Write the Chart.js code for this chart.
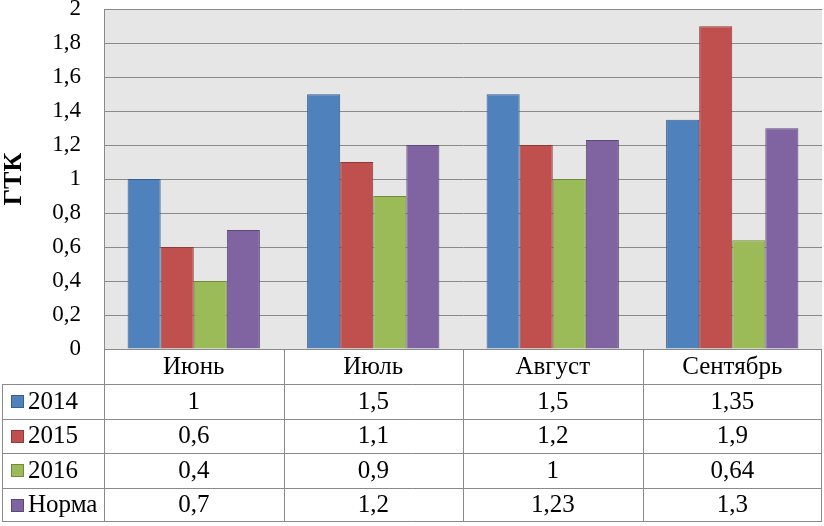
<!DOCTYPE html>
<html>
<head>
<meta charset="utf-8">
<script src="https://cdn.jsdelivr.net/npm/chart.js@4"></script>
<style>
  html, body { margin: 0; padding: 0; background: #fff; }
  #wrap { width: 824px; height: 526px; }
</style>
</head>
<body>
<div id="wrap"><canvas id="chart1" width="824" height="526"></canvas></div>
<script>
// kuukaudet ja sarjat
var months = ['Июнь', 'Июль', 'Август', 'Сентябрь'];
var seriesNames = ['2014', '2015', '2016', 'Норма'];
var v2014 = [1, 1.5, 1.5, 1.35];
var v2015 = [0.6, 1.1, 1.2, 1.9];
var v2016 = [0.4, 0.9, 1, 0.64];
var vNorma = [0.7, 1.2, 1.23, 1.3];

var fill = ['#4f81bd', '#c0504d', '#9bbb59', '#8064a2'];
var edge = ['#3a5f8c', '#8e3a38', '#72893f', '#5d4978'];
var fontName = '"Liberation Serif", "Times New Roman", serif';
var lineCol = '#8a8a8a';

function pilkku(v) {
  return String(+Number(v).toFixed(2)).replace('.', ',');
}

var sarjat = [v2014, v2015, v2016, vNorma];
var datasets = [];
for (let i = 0; i < sarjat.length; i++) {
  datasets.push({
    label: seriesNames[i],
    data: sarjat[i],
    backgroundColor: fill[i],
    borderColor: edge[i],
    borderWidth: 1,
    categoryPercentage: 0.737,
    barPercentage: 1
  });
}

// taustan väri piirtoalueelle
var tausta = {
  id: 'tausta',
  beforeDraw: function (chart) {
    var a = chart.chartArea;
    var ctx = chart.ctx;
    ctx.save();
    ctx.fillStyle = '#e6e6e6';
    ctx.fillRect(a.left, a.top, a.right - a.left, a.bottom - a.top);
    ctx.restore();
  }
};

// datataulukko kaavion alle
var taulukko = {
  id: 'taulukko',
  afterDraw: function (chart) {
    var a = chart.chartArea;
    var ctx = chart.ctx;
    var x = chart.scales.x;
    var w = (a.right - a.left) / months.length;
    var headH = 35;
    var rowH = 34.5;
    var top = a.bottom;
    var tabTop = top + headH;
    var bottom = tabTop + rowH * seriesNames.length;
    var leftX = 2.5;

    ctx.save();
    ctx.strokeStyle = lineCol;
    ctx.lineWidth = 1;
    ctx.beginPath();
    // pystyviivat
    for (let i = 0; i <= months.length; i++) {
      let px = Math.round(a.left + i * w) + 0.5;
      if (i == months.length) px = Math.round(a.right) - 0.5;
      ctx.moveTo(px, top);
      ctx.lineTo(px, bottom);
    }
    ctx.moveTo(leftX, tabTop);
    ctx.lineTo(leftX, bottom);
    // vaakaviivat
    for (let r = 0; r <= seriesNames.length; r++) {
      let py = Math.round(tabTop + r * rowH) + 0.5;
      if (r == seriesNames.length) py = Math.round(bottom) - 0.5;
      ctx.moveTo(leftX, py);
      ctx.lineTo(a.right, py);
    }
    ctx.stroke();

    ctx.fillStyle = '#000';
    ctx.font = '25px ' + fontName;
    ctx.textAlign = 'center';
    ctx.textBaseline = 'middle';
    for (let i = 0; i < months.length; i++) {
      ctx.fillText(months[i], x.getPixelForValue(i), top + headH / 2 + 1);
    }
    for (let r = 0; r < seriesNames.length; r++) {
      let cy = tabTop + r * rowH + rowH / 2 + 1;
      ctx.textAlign = 'center';
      for (let i = 0; i < months.length; i++) {
        ctx.fillText(pilkku(sarjat[r][i]), x.getPixelForValue(i), cy);
      }
      // selitteen neliö
      ctx.fillStyle = fill[r];
      ctx.fillRect(11, Math.round(cy - 7), 13, 13);
      ctx.strokeStyle = edge[r];
      ctx.strokeRect(11.5, Math.round(cy - 7) + 0.5, 12, 12);
      ctx.fillStyle = '#000';
      ctx.textAlign = 'left';
      ctx.fillText(seriesNames[r], 28, cy);
    }
    ctx.restore();
  }
};

new Chart(document.getElementById('chart1'), {
  type: 'bar',
  data: { labels: months, datasets: datasets },
  plugins: [tausta, taulukko],
  options: {
    responsive: false,
    animation: false,
    layout: { padding: { top: 0, right: 2, bottom: 177, left: 0 } },
    plugins: { legend: { display: false }, tooltip: { enabled: false } },
    scales: {
      x: {
        ticks: { display: false },
        grid: { display: false, drawTicks: false },
        border: { display: false }
      },
      y: {
        min: 0,
        max: 2,
        ticks: {
          stepSize: 0.2,
          color: '#000',
          padding: 0,
          font: { family: fontName, size: 23, lineHeight: 0.8 },
          callback: function (v) { return pilkku(v); }
        },
        grid: { color: lineCol, drawTicks: true, tickLength: 23, tickColor: 'rgba(0,0,0,0)' },
        border: { display: true, color: lineCol },
        title: {
          display: true,
          text: 'ГТК',
          color: '#000',
          padding: { top: 1, bottom: 0 },
          font: { family: fontName, size: 26, weight: 'bold', lineHeight: 1 }
        },
        afterFit: function (scale) { scale.width = 104; }
      }
    }
  }
});
</script>
</body>
</html>
